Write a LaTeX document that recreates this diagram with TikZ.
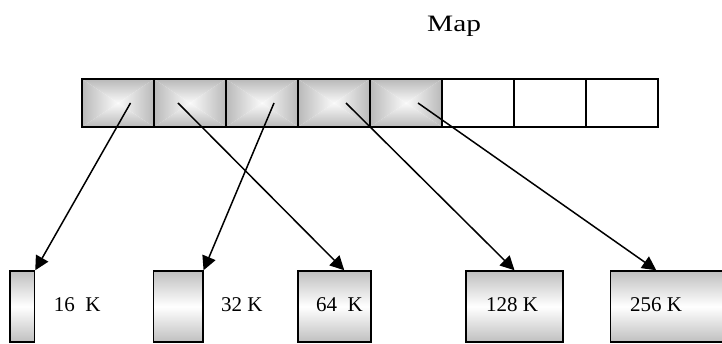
\documentclass[tikz,border=0pt]{standalone}
\usepackage{fontspec}
\setmainfont{Liberation Serif}
\usetikzlibrary{arrows.meta,calc}
\begin{document}
\begin{tikzpicture}[x=1pt,y=-1pt,
  cellbox/.style={draw=black,line width=1.5pt,minimum width=72pt,minimum height=48pt,inner sep=0pt},
  membox/.style={draw=black,line width=1.5pt,inner sep=0pt,top color=gray!50,bottom color=gray!50,middle color=white},
  lbl/.style={anchor=base west,inner sep=0pt,font=\fontsize{21}{25}\selectfont},
  ptr/.style={line width=1.5pt,-{Triangle[length=14pt,width=14pt]}}]
\useasboundingbox (0,0) rectangle (722,344);
% shaded cells
\foreach \i in {1,...,5}{
  \pgfmathsetmacro{\xa}{82+72*(\i-1)}
  \pgfmathsetmacro{\xb}{\xa+72}
  \pgfmathsetmacro{\xc}{\xa+36}
  \shade[top color=gray!55,bottom color=white!96!gray] (\xa,79) -- (\xb,79) -- (\xc,103) -- cycle;
  \shade[top color=white!96!gray,bottom color=gray!55] (\xa,127) -- (\xb,127) -- (\xc,103) -- cycle;
  \shade[left color=gray!55,right color=white!96!gray] (\xa,79) -- (\xa,127) -- (\xc,103) -- cycle;
  \shade[left color=white!96!gray,right color=gray!55] (\xb,79) -- (\xb,127) -- (\xc,103) -- cycle;
}
\foreach \i in {1,...,8}{
  \node[cellbox] (c\i) at ({82+72*(\i-1)+36},103) {};
}
% title
\node[anchor=base west,inner sep=0pt] (title) at (427,31.7) {\fontsize{23.5}{28}\selectfont\scalebox{1.25}[1]{Map}};
% memory blocks
\node[membox,minimum width=24.5pt,minimum height=71pt] (b16) at (22.25,306.5) {};
\node[membox,minimum width=49.3pt,minimum height=71pt] (b32) at (178.15,306.5) {};
\node[membox,minimum width=73pt,minimum height=71pt] (b64) at (334.5,306.5) {};
\node[membox,minimum width=97pt,minimum height=71pt] (b128) at (514.5,306.5) {};
\node[membox,minimum width=114pt,minimum height=71pt] (b256) at (667.5,306.5) {};
% labels
\node[lbl] (l16) at (53.7,311.7) {16~~K};
\node[lbl] (l32) at (220.8,311.7) {32 K};
\node[lbl] (l64) at (316,311.7) {64~~K};
\node[lbl] (l128) at (486,311.7) {128 K};
\node[lbl] (l256) at (630,311.7) {256 K};
% pointer starts
\coordinate (s1) at ($(c1.center)+(12.5,0)$);
\coordinate (s2) at ($(c2.center)+(-12,0)$);
\coordinate (s3) at ($(c3.center)+(12,0)$);
\coordinate (s4) at ($(c4.center)+(12,0)$);
\coordinate (s5) at ($(c5.center)+(12,0)$);
\coordinate (t64) at ($(b64.north west)+(47,0)$);
\coordinate (t256) at ($(b256.north west)+(46.5,0)$);
% pointers
\draw[ptr] (s1) -- (b16.north east);
\draw[ptr] (s2) -- (t64);
\draw[ptr] (s3) -- (b32.north east);
\draw[ptr] (s4) -- (b128.north);
\draw[ptr] (s5) -- (t256);
\end{tikzpicture}
\end{document}
